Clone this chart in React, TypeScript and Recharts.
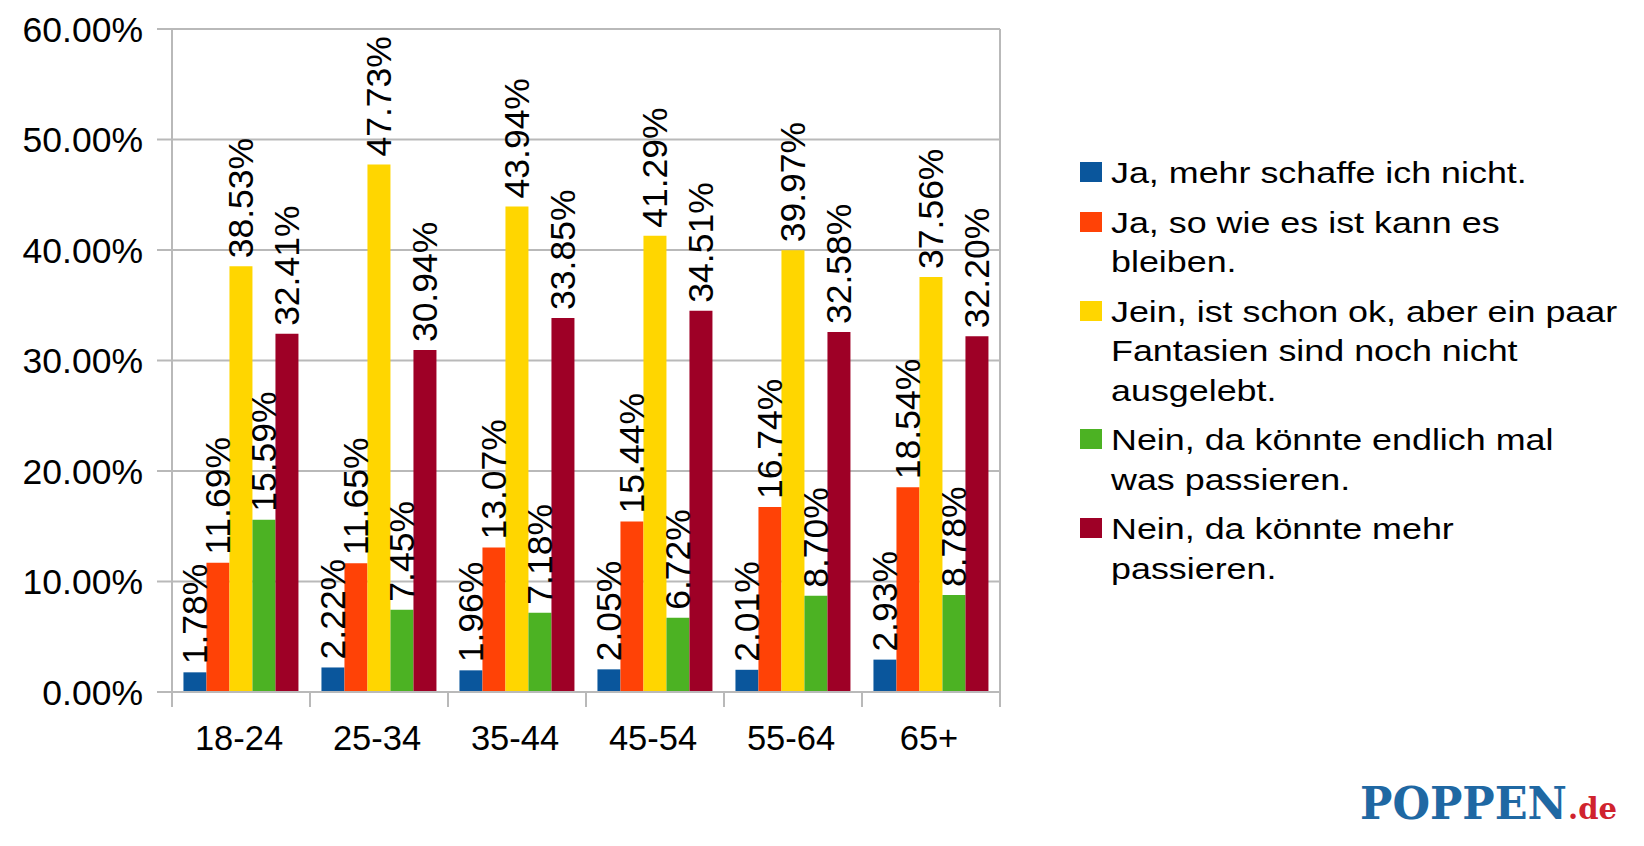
import React from 'react';
import { BarChart, Bar, XAxis, YAxis, CartesianGrid, LabelList, Legend } from 'recharts';

const categories = ['18-24', '25-34', '35-44', '45-54', '55-64', '65+'];
const jaMehrSchaffeIchNicht = [1.78, 2.22, 1.96, 2.05, 2.01, 2.93];
const jaSoKannEsBleiben = [11.69, 11.65, 13.07, 15.44, 16.74, 18.54];
const jeinFantasien = [38.53, 47.73, 43.94, 41.29, 39.97, 37.56];
const neinEndlichMal = [15.59, 7.45, 7.18, 6.72, 8.7, 8.78];
const neinMehr = [32.41, 30.94, 33.85, 34.51, 32.58, 32.2];
const yTicks = [0, 10, 20, 30, 40, 50, 60];

const seriesKeys = ['s0', 's1', 's2', 's3', 's4'];
const seriesValues = [jaMehrSchaffeIchNicht, jaSoKannEsBleiben, jeinFantasien, neinEndlichMal, neinMehr];
const seriesNames = [
  'Ja, mehr schaffe ich nicht.',
  'Ja, so wie es ist kann es bleiben.',
  'Jein, ist schon ok, aber ein paar Fantasien sind noch nicht ausgelebt.',
  'Nein, da könnte endlich mal was passieren.',
  'Nein, da könnte mehr passieren.',
];
const legendLines = [
  ['Ja, mehr schaffe ich nicht.'],
  ['Ja, so wie es ist kann es', 'bleiben.'],
  ['Jein, ist schon ok, aber ein paar', 'Fantasien sind noch nicht', 'ausgelebt.'],
  ['Nein, da könnte endlich mal', 'was passieren.'],
  ['Nein, da könnte mehr', 'passieren.'],
];
const seriesColors = ['#0a569c', '#ff4206', '#ffd600', '#4cb223', '#9e0026'];

const data = categories.map((cat, i) => {
  const row: Record<string, string | number> = { cat };
  seriesKeys.forEach((k, j) => {
    row[k] = seriesValues[j][i];
  });
  return row;
});

const W = 1644;
const H = 846;
const PLOT_LEFT = 172;
const PLOT_RIGHT = 1000;
const PLOT_TOP = 29;
const PLOT_BOTTOM = 692;
const X_AXIS_H = 60;
const BAND = (PLOT_RIGHT - PLOT_LEFT) / categories.length;
const GRID = '#b9b9b9';
const FONT = '"Liberation Sans", Arial, Helvetica, sans-serif';

const fmt = (v: number) => `${Number(v).toFixed(2)}%`;

const BarLabel = (props: any) => {
  const { x, y, width, value } = props;
  const cx = Number(x) + Number(width) / 2;
  const ty = Number(y) - 8;
  return (
    <text
      x={cx}
      y={ty}
      transform={`rotate(-90 ${cx} ${ty})`}
      textAnchor="start"
      dominantBaseline="central"
      fontSize={35.5}
      fontFamily={FONT}
      fill="#000"
    >
      {fmt(value)}
    </text>
  );
};

const XTick = (props: any) => {
  const { x, payload, index } = props;
  const half = BAND / 2;
  const isLast = index === categories.length - 1;
  return (
    <g>
      <line x1={x - half} x2={x - half} y1={PLOT_BOTTOM} y2={PLOT_BOTTOM + 15} stroke={GRID} strokeWidth={2} />
      {isLast && (
        <line x1={x + half} x2={x + half} y1={PLOT_BOTTOM} y2={PLOT_BOTTOM + 15} stroke={GRID} strokeWidth={2} />
      )}
      <text x={x - 2} y={PLOT_BOTTOM + 58} textAnchor="middle" fontSize={34.5} fontFamily={FONT} fill="#000">
        {payload.value}
      </text>
    </g>
  );
};

const LegendContent = (props: any) => {
  const payload = props.payload || [];
  return (
    <div style={{ fontFamily: FONT, fontSize: 30, lineHeight: '39.5px', color: '#000' }}>
      {payload.map((entry: any, i: number) => {
        const idx = seriesKeys.indexOf(String(entry.dataKey));
        const lines = idx >= 0 ? legendLines[idx] : [String(entry.value)];
        return (
          <div key={i} style={{ position: 'relative', paddingLeft: 31, marginBottom: 10, whiteSpace: 'nowrap' }}>
            <div
              style={{
                position: 'absolute',
                left: 0,
                top: 9,
                width: 22,
                height: 20,
                background: entry.color,
              }}
            />
            {lines.map((ln: string, k: number) => (
              <div key={k} style={{ transform: 'scaleX(1.195)', transformOrigin: 'left center' }}>
                {ln}
              </div>
            ))}
          </div>
        );
      })}
    </div>
  );
};

export default function App() {
  return (
    <div
      style={{
        position: 'absolute',
        left: 0,
        top: 0,
        width: W,
        height: H,
        background: '#fff',
        fontFamily: FONT,
        overflow: 'hidden',
      }}
    >
      <BarChart
        width={W}
        height={H}
        data={data}
        margin={{ top: PLOT_TOP, right: W - PLOT_RIGHT, bottom: H - PLOT_BOTTOM - X_AXIS_H, left: 0 }}
        barCategoryGap="8.3%"
        barGap={0}
      >
        <CartesianGrid
          stroke={GRID}
          strokeWidth={2}
          vertical={true}
          verticalCoordinatesGenerator={(args: any) => {
            const off = args && args.offset ? args.offset : { left: PLOT_LEFT, width: PLOT_RIGHT - PLOT_LEFT };
            return [off.left, off.left + off.width];
          }}
        />
        <XAxis
          dataKey="cat"
          height={X_AXIS_H}
          axisLine={{ stroke: GRID, strokeWidth: 2 }}
          tickLine={false}
          tick={<XTick />}
          interval={0}
        />
        <YAxis
          width={PLOT_LEFT}
          domain={[0, 60]}
          ticks={yTicks}
          tickFormatter={(v: number) => fmt(v)}
          axisLine={{ stroke: GRID, strokeWidth: 2 }}
          tickLine={{ stroke: GRID, strokeWidth: 2 }}
          tickSize={15}
          tickMargin={14}
          tick={{ fill: '#000', fontSize: 35.5, fontFamily: FONT }}
          interval={0}
        />
        <Legend
          layout="vertical"
          align="center"
          verticalAlign="middle"
          content={<LegendContent />}
          wrapperStyle={{ left: 1080, top: 153, width: 560, height: 'auto' }}
        />
        {seriesKeys.map((k, j) => (
          <Bar key={k} dataKey={k} name={seriesNames[j]} fill={seriesColors[j]} isAnimationActive={false}>
            <LabelList dataKey={k} content={<BarLabel />} />
          </Bar>
        ))}
      </BarChart>
      <svg
        width={W}
        height={H}
        style={{ position: 'absolute', left: 0, top: 0, pointerEvents: 'none' }}
      >
        <text
          x={1360}
          y={819}
          fontFamily='"DejaVu Serif", serif'
          fontWeight="bold"
          fontSize={44}
          fill="#1f68a3"
          textLength={207}
          lengthAdjust="spacingAndGlyphs"
        >
          POPPEN
        </text>
        <text
          x={1568}
          y={819}
          fontFamily='"DejaVu Serif", serif'
          fontWeight="bold"
          fontSize={30}
          fill="#d0232e"
          textLength={49}
          lengthAdjust="spacingAndGlyphs"
        >
          .de
        </text>
      </svg>
    </div>
  );
}
